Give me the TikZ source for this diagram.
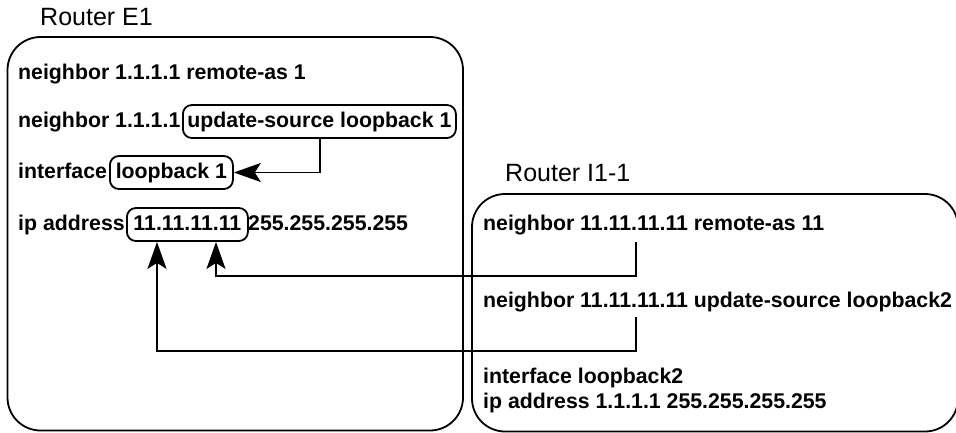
\documentclass[tikz,border=0pt]{standalone}
\usepackage{fontspec}
\setmainfont{Liberation Sans}
\usetikzlibrary{arrows.meta}
\tikzset{
  cfg/.style={inner sep=0pt, anchor=base west, font=\fontsize{21.3}{25}\selectfont\bfseries},
  title/.style={inner sep=0pt, anchor=base west, font=\fontsize{25}{29}\selectfont},
  hl/.style={draw, line width=1.8pt, rounded corners=9pt, anchor=base west,
    inner xsep=3pt, inner ysep=6pt, text height=16pt, text depth=5pt,
    font=\fontsize{21.3}{25}\selectfont\bfseries},
  router/.style={draw, line width=1.8pt, rounded corners=33pt},
  link/.style={line width=1.8pt, -{Stealth[length=27pt, width=19pt, inset=6pt]}},
}
\begin{document}
\begin{tikzpicture}[x=1pt, y=-1pt]
\useasboundingbox (0,0) rectangle (956,432);
% router frames
\draw[router] (7.5,37) rectangle (463,430.5);
\draw[router] (472,194) rectangle (958,431.5);
\node[title] (te1) at (40,25) {Router E1};
\node[title] (ti1) at (505,181) {Router I1-1};
% Router E1 config
\node[cfg] (e1) at (18,79) {neighbor 1.1.1.1 remote-as 1};
\node[cfg] (e2) at (18,127) {neighbor 1.1.1.1};
\node[hl, minimum width=273pt] (upd) at (182,127) {update-source loopback 1};
\node[cfg] (e3) at (18,178) {interface};
\node[hl, minimum width=123pt] (lb) at (109,178) {loopback 1};
\node[cfg] (e4) at (18,230) {ip address};
\node[hl, minimum width=121pt] (ip) at (126,230) {11.11.11.11};
\node[cfg] (e4b) at (248,230) {255.255.255.255};
% Router I1-1 config
\node[cfg] (i1) at (483,230) {neighbor 11.11.11.11 remote-as 11};
\node[cfg] (i2) at (483,307) {neighbor 11.11.11.11 update-source loopback2};
\node[cfg] (i3) at (483,383) {interface loopback2};
\node[cfg] (i4) at (483,408) {ip address 1.1.1.1 255.255.255.255};
% connectors
\coordinate (a0) at (upd.south -| 320,0);
\draw[link] (a0) |- (lb.east);
\coordinate (s1) at (636,242);
\coordinate (s2) at (636,317);
\coordinate (t1) at (ip.south -| 216,0);
\coordinate (t2) at (ip.south -| 157,0);
\draw[link] (s1) -- ++(0,34) -| (t1);
\draw[link] (s2) -- ++(0,34) -| (t2);
\end{tikzpicture}
\end{document}
